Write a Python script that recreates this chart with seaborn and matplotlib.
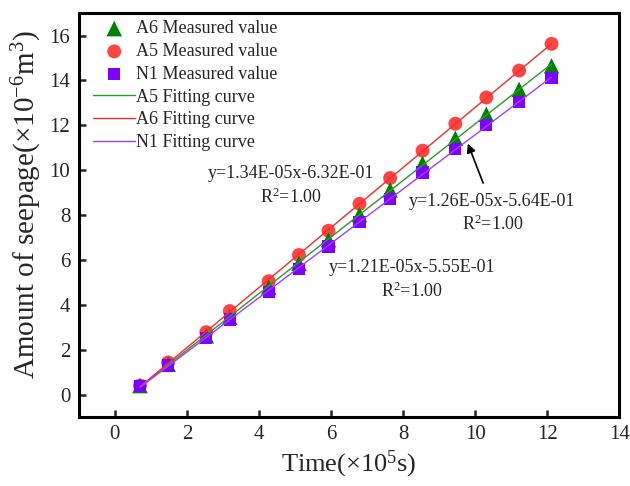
import numpy as np
import pandas as pd
import matplotlib
matplotlib.use("Agg")
import matplotlib.pyplot as plt
import seaborn as sns

# ---- data (time in 1e5 s, seepage in 1e-6 m^3) ----
time = [0.70, 1.48, 2.54, 3.19, 4.27, 5.11, 5.93, 6.79, 7.64, 8.54, 9.45, 10.31, 11.22, 12.12]
a5_values = [0.40, 1.43, 2.78, 3.72, 5.05, 6.22, 7.30, 8.50, 9.65, 10.87, 12.07, 13.24, 14.44, 15.63]
a6_values = [0.40, 1.35, 2.62, 3.45, 4.78, 5.85, 6.90, 8.02, 9.12, 10.30, 11.42, 12.49, 13.60, 14.65]
n1_values = [0.38, 1.30, 2.51, 3.35, 4.58, 5.61, 6.60, 7.68, 8.72, 9.90, 10.93, 12.01, 13.05, 14.11]

measured_labels = ["A6 Measured value", "A5 Measured value", "N1 Measured value"]
fit_labels = ["A5 Fitting curve", "A6 Fitting curve", "N1 Fitting curve"]
eq_texts = ["y=1.34E-05x-6.32E-01\nR$^2$=1.00",
            "y=1.26E-05x-5.64E-01\nR$^2$=1.00",
            "y=1.21E-05x-5.55E-01\nR$^2$=1.00"]
x_ticks = [0, 2, 4, 6, 8, 10, 12, 14]
y_ticks = [0, 2, 4, 6, 8, 10, 12, 14, 16]

sns.set_theme(style="ticks")
plt.rcParams["font.family"] = ["Liberation Serif", "DejaVu Serif"]
plt.rcParams["mathtext.fontset"] = "custom"
plt.rcParams["mathtext.rm"] = "Liberation Serif"
plt.rcParams["mathtext.it"] = "Liberation Serif:italic"

df = pd.DataFrame({"t": time, "A5": a5_values, "A6": a6_values, "N1": n1_values})

fig = plt.figure(figsize=(6.3, 4.86), dpi=100)
ax = fig.add_axes([0.125, 0.142, 0.858, 0.831])

red = "#FF4444"
green = "#008000"
purple = "#8000FF"

# measured points
sns.scatterplot(data=df, x="t", y="A5", ax=ax, marker="o", s=100, color=red,
                edgecolor="none", zorder=3, label=measured_labels[1])
sns.scatterplot(data=df, x="t", y="A6", ax=ax, marker="^", s=125, color=green,
                edgecolor="none", zorder=4, label=measured_labels[0])
sns.scatterplot(data=df, x="t", y="N1", ax=ax, marker="s", s=78, color=purple,
                edgecolor="none", zorder=5, label=measured_labels[2])

# fitted lines
sns.regplot(data=df, x="t", y="A6", ax=ax, scatter=False, ci=None, truncate=True,
            label=fit_labels[0], line_kws=dict(color="#2E9A2E", lw=1.0, zorder=6))
sns.regplot(data=df, x="t", y="A5", ax=ax, scatter=False, ci=None, truncate=True,
            label=fit_labels[1], line_kws=dict(color="#FF2A2A", lw=1.0, zorder=6))
sns.regplot(data=df, x="t", y="N1", ax=ax, scatter=False, ci=None, truncate=True,
            label=fit_labels[2], line_kws=dict(color="#A040FF", lw=1.0, zorder=6))

ax.set_xlim(-1, 14)
ax.set_ylim(-1, 17)
ax.set_xticks(x_ticks)
ax.set_yticks(y_ticks)
ax.set_xlabel(r"Time($\times$10$^5$s)", fontsize=19, labelpad=3)
ax.set_ylabel(r"Amount of seepage($\times$10$^{-6}$m$^3$)", fontsize=21)
ax.yaxis.set_label_coords(-0.064, 0.525)
ax.tick_params(axis="both", direction="in", length=5, width=1.8, labelsize=15,
               top=False, right=False, pad=6)
for sp in ax.spines.values():
    sp.set_visible(True)
    sp.set_linewidth(2.2)
    sp.set_color("black")

# annotations
ax.text(4.90, 9.3, eq_texts[0], ha="center", va="center", fontsize=13, linespacing=1.35)
ax.text(10.48, 8.07, eq_texts[1], ha="center", va="center", fontsize=13, linespacing=1.35)
ax.text(8.24, 5.12, eq_texts[2], ha="center", va="center", fontsize=13, linespacing=1.35)
ax.annotate("", xy=(9.77, 11.3), xytext=(10.25, 9.31),
            arrowprops=dict(arrowstyle="-|>", color="black", lw=1.2, mutation_scale=13))

# legend
handles, labels = ax.get_legend_handles_labels()
hmap = dict(zip(labels, handles))
order = measured_labels + fit_labels
ax.legend([hmap[l] for l in order], order, loc="upper left",
          bbox_to_anchor=(0.013, 1.0), frameon=False, fontsize=13,
          handlelength=2.35, handletextpad=0.05, labelspacing=0.32,
          borderaxespad=0.0)

fig.savefig("out.png", dpi=100)
